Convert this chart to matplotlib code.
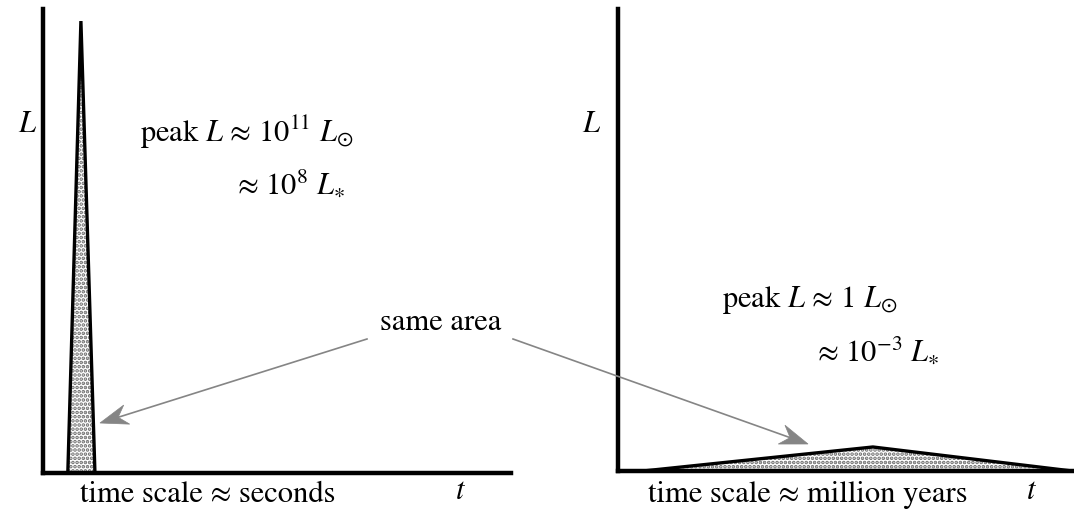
import matplotlib
matplotlib.use("Agg")
import matplotlib.pyplot as plt
import numpy as np
from matplotlib.patches import Polygon

plt.rcParams['font.family'] = 'STIXGeneral'
plt.rcParams['mathtext.fontset'] = 'stix'
plt.rcParams['hatch.linewidth'] = 1.8

# light curves (arbitrary units, axes run 0..1)
t_flash = [0.053, 0.081, 0.111]
L_flash = [0.0, 0.974, 0.0]
t_slow = [0.055, 0.559, 0.996]
L_slow = [0.0, 0.052, 0.0]

W, H = 1074, 511
fig = plt.figure(figsize=(W / 100, H / 100), dpi=100)

def px(x, y):
    return (x / W, 1 - y / H)

ax1 = fig.add_axes([43 / W, (H - 473) / H, 468 / W, 464 / H])
ax2 = fig.add_axes([618 / W, (H - 471) / H, 456 / W, 462 / H])

for ax, t, L in [(ax1, t_flash, L_flash), (ax2, t_slow, L_slow)]:
    ax.set_facecolor('none')
    ax.fill_between(t, L, 0, facecolor='white', edgecolor='#6a6a6a',
                    hatch='....', linewidth=0)
    ax.plot(t, L, color='black', lw=2.4, solid_joinstyle='miter', clip_on=False)
    ax.set_xlim(0, 1)
    ax.set_ylim(0, 1)
    ax.set_xticks([])
    ax.set_yticks([])
    for s in ['top', 'right']:
        ax.spines[s].set_visible(False)
    for s in ['left', 'bottom']:
        ax.spines[s].set_linewidth(3.2)

fs = 22
fig.text(*px(18, 125), r'$L$', fontsize=fs, va='center')
fig.text(*px(582, 125), r'$L$', fontsize=fs, va='center')

fig.text(*px(140, 132), r'peak $L$ ≈ $10^{11}$ $L_{\odot}$', fontsize=fs, va='center')
fig.text(*px(237, 185), r'≈ $10^{8}$ $L_{\ast}$', fontsize=fs, va='center')
fig.text(*px(722, 300), r'peak $L$ ≈ 1 $L_{\odot}$', fontsize=fs, va='center')
fig.text(*px(817, 352), r'≈ $10^{-3}$ $L_{\ast}$', fontsize=fs, va='center')

fig.text(*px(80, 495), 'time scale ≈ seconds', fontsize=fs, va='center')
fig.text(*px(455, 492), r'$t$', fontsize=fs, va='center')
fig.text(*px(648, 495), 'time scale ≈ million years', fontsize=fs, va='center')
fig.text(*px(1026, 492), r'$t$', fontsize=fs, va='center')

fig.text(*px(441, 323), 'same area', fontsize=fs, ha='center', va='center')

# grey arrows with a swept-back head
grey = '#858585'
for start, tip in [((367, 339), (100, 423)), ((513, 339), (808, 444))]:
    s = np.array(start, float)
    p = np.array(tip, float)
    d = (p - s) / np.hypot(*(p - s))
    n = np.array([-d[1], d[0]])
    notch = p - d * 19
    head = [p, p - d * 28 + n * 10, notch, p - d * 28 - n * 10]
    fig.add_artist(plt.Line2D([px(*s)[0], px(*notch)[0]], [px(*s)[1], px(*notch)[1]],
                              transform=fig.transFigure, color=grey, lw=1.2))
    fig.add_artist(Polygon([px(*q) for q in head], closed=True,
                           transform=fig.transFigure, facecolor=grey,
                           edgecolor=grey, lw=0.5))

fig.savefig('out.png', dpi=100)
